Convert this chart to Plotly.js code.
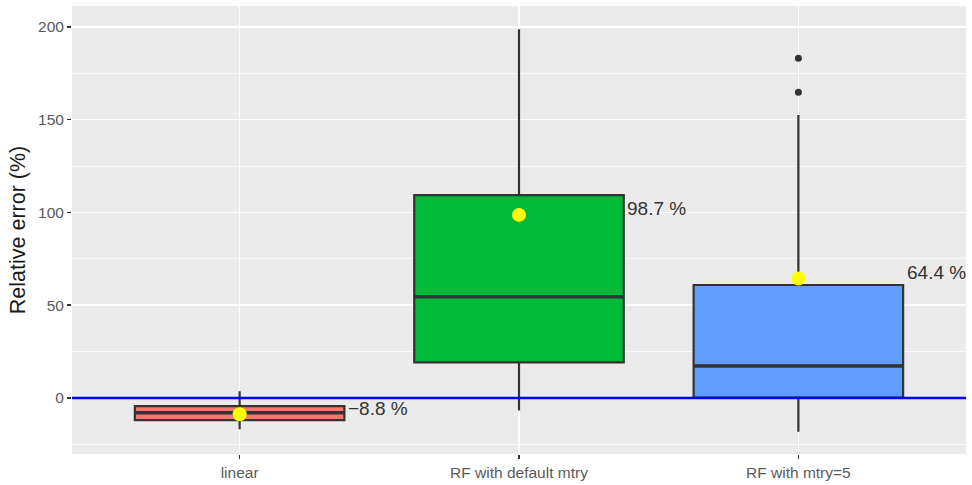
<!DOCTYPE html>
<html>
<head>
<meta charset="utf-8">
<script src="https://cdn.plot.ly/plotly-3.0.1.min.js"></script>
<style>html,body{margin:0;padding:0;background:#fff;}#chart{width:972px;height:485px;}</style>
</head>
<body>
<div id="chart"></div>
<script>
const categories = ["linear", "RF with default mtry", "RF with mtry=5"];
const fills = ["#F8766D", "#00BA38", "#619CFF"];
const lowerWhisker = [-16.8, -6.8, -18.2];
const q1 = [-11.9, 19.2, 0.2];
const median = [-7.9, 54.6, 17.3];
const q3 = [-4.4, 109.4, 60.9];
const upperWhisker = [3.6, 198.8, 152.6];
const means = [-8.8, 98.7, 64.4];
const meanLabels = ["\u22128.8 %", "98.7 %", "64.4 %"];
const outlierCat = ["RF with mtry=5", "RF with mtry=5"];
const outlierVals = [164.8, 183.1];

const BOXW = 0.75;
const pos = c => categories.indexOf(c);

const traces = categories.map((c, i) => ({
  type: "box",
  x: [c],
  q1: [q1[i]], median: [median[i]], q3: [q3[i]],
  lowerfence: [lowerWhisker[i]], upperfence: [upperWhisker[i]],
  fillcolor: fills[i],
  line: {color: "#333333", width: 2.2},
  whiskerwidth: 0,
  width: BOXW,
  boxpoints: false,
  showlegend: false,
  hoverinfo: "skip"
}));

// thicker median bars, as ggplot draws them (on the numeric overlay axis)
categories.forEach((c, i) => {
  traces.push({
    type: "scatter", mode: "lines", xaxis: "x2",
    x: [pos(c) - BOXW / 2, pos(c) + BOXW / 2], y: [median[i], median[i]],
    line: {color: "#333333", width: 3.5},
    showlegend: false, hoverinfo: "skip"
  });
});

traces.push({
  type: "scatter", mode: "lines", xaxis: "x2",
  x: [-0.6, 2.6], y: [0, 0],
  line: {color: "#0000FF", width: 2.6},
  showlegend: false, hoverinfo: "skip"
});
traces.push({
  type: "scatter", mode: "markers", xaxis: "x2",
  x: outlierCat.map(pos), y: outlierVals,
  marker: {color: "#333333", size: 7},
  showlegend: false, hoverinfo: "skip"
});
traces.push({
  type: "scatter", mode: "markers", xaxis: "x2",
  x: categories.map(pos), y: means,
  marker: {color: "#FFFF00", size: 14},
  showlegend: false, hoverinfo: "skip"
});

const annotations = categories.map((c, i) => ({
  x: i + 0.38, y: means[i], xref: "x", yref: "y",
  text: meanLabels[i], showarrow: false,
  xanchor: "left", yanchor: "middle", yshift: 6,
  font: {family: "Liberation Sans, Arial, sans-serif", size: 19, color: "#333333"}
}));

const layout = {
  width: 972, height: 485,
  margin: {l: 72, r: 6, t: 6, b: 31},
  paper_bgcolor: "#FFFFFF",
  plot_bgcolor: "#EBEBEB",
  font: {family: "Liberation Sans, Arial, sans-serif"},
  showlegend: false,
  xaxis: {
    type: "category",
    categoryorder: "array", categoryarray: categories,
    range: [-0.6, 2.6],
    showgrid: true, gridcolor: "#FFFFFF", gridwidth: 1.5,
    zeroline: false, showline: false,
    ticks: "outside", ticklen: 4, tickwidth: 1.5, tickcolor: "#333333",
    tickfont: {size: 15.5, color: "#5A5A5A"},
    fixedrange: true
  },
  xaxis2: {
    overlaying: "x", range: [-0.6, 2.6], visible: false, fixedrange: true
  },
  yaxis: {
    range: [-30.2, 211.3],
    tickvals: [0, 50, 100, 150, 200],
    showgrid: true, gridcolor: "#FFFFFF", gridwidth: 1.5,
    minor: {tickvals: [-25, 25, 75, 125, 175], showgrid: true, gridcolor: "#FFFFFF", gridwidth: 0.7, ticks: ""},
    zeroline: false, showline: false,
    ticks: "outside", ticklen: 4, tickwidth: 1.5, tickcolor: "#333333",
    tickfont: {size: 15.5, color: "#5A5A5A"},
    title: {text: "Relative error (%)", font: {size: 21.5, color: "#1A1A1A"}, standoff: 6},
    fixedrange: true
  },
  annotations: annotations
};

Plotly.newPlot("chart", traces, layout, {displayModeBar: false, staticPlot: true});
</script>
</body>
</html>
